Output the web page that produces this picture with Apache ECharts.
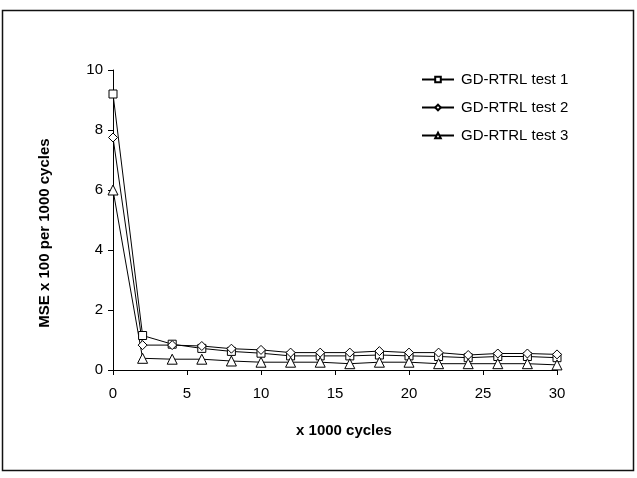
<!DOCTYPE html>
<html>
<head>
<meta charset="utf-8">
<script src="https://cdn.jsdelivr.net/npm/echarts@6/dist/echarts.min.js"></script>
<style>
html,body{margin:0;padding:0;background:#fff;}
#chart{width:637px;height:478px;}
</style>
</head>
<body>
<div id="chart"></div>
<script>
var cycles = [0, 2, 4, 6, 8, 10, 12, 14, 16, 18, 20, 22, 24, 26, 28, 30];
var test1 = [9.2, 1.15, 0.86, 0.72, 0.62, 0.56, 0.47, 0.47, 0.47, 0.5, 0.47, 0.45, 0.41, 0.45, 0.45, 0.41];
var test2 = [7.75, 0.83, 0.83, 0.8, 0.71, 0.67, 0.58, 0.58, 0.58, 0.63, 0.58, 0.58, 0.5, 0.55, 0.55, 0.52];
var test3 = [6.0, 0.39, 0.36, 0.36, 0.3, 0.26, 0.26, 0.26, 0.21, 0.26, 0.26, 0.21, 0.21, 0.21, 0.21, 0.17];
var seriesNames = ['GD-RTRL test 1', 'GD-RTRL test 2', 'GD-RTRL test 3'];
var xTicks = [0, 5, 10, 15, 20, 25, 30];
var yTicks = [0, 2, 4, 6, 8, 10];

function pairs(vals) {
  return cycles.map(function (c, i) { return [c, vals[i]]; });
}
var FONT = '"Liberation Sans", Arial, sans-serif';
function mkSeries(name, vals, symbol, size) {
  return {
    name: name,
    type: 'line',
    data: pairs(vals),
    symbol: symbol,
    symbolSize: size,
    showAllSymbol: true,
    lineStyle: { color: '#000', width: 1 },
    itemStyle: { color: '#fff', borderColor: '#000', borderWidth: 1 },
    emphasis: { disabled: true },
    animation: false
  };
}
var chart = echarts.init(document.getElementById('chart'), null, { renderer: 'canvas' });
chart.setOption({
  backgroundColor: '#fff',
  animation: false,
  textStyle: { fontFamily: FONT },
  graphic: [{
    type: 'rect',
    shape: { x: 2.5, y: 10.5, width: 631, height: 460 },
    style: { fill: 'none', stroke: '#111', lineWidth: 1.5 },
    silent: true
  }],
  legend: {
    orient: 'vertical',
    left: 416,
    top: 67,
    itemWidth: 32,
    itemHeight: 7,
    itemGap: 13,
    textStyle: { fontFamily: FONT, fontSize: 15, color: '#000', padding: [0, 0, 0, 2] },
    data: seriesNames
  },
  grid: { left: 113, right: 80, top: 70, bottom: 108, containLabel: false },
  xAxis: {
    type: 'value',
    min: xTicks[0],
    max: xTicks[xTicks.length - 1],
    interval: xTicks[1] - xTicks[0],
    name: 'x 1000 cycles',
    nameLocation: 'middle',
    nameGap: 53,
    nameTextStyle: { fontFamily: FONT, fontSize: 15, fontWeight: 'bold', color: '#000', padding: [0, 0, 0, 18] },
    axisLine: { lineStyle: { color: '#000', width: 1 } },
    axisTick: { show: true, inside: false, length: 5, lineStyle: { color: '#000' } },
    axisLabel: { fontFamily: FONT, fontSize: 15, color: '#000', margin: 16 },
    splitLine: { show: false }
  },
  yAxis: {
    type: 'value',
    min: yTicks[0],
    max: yTicks[yTicks.length - 1],
    interval: yTicks[1] - yTicks[0],
    name: 'MSE x 100 per 1000 cycles',
    nameLocation: 'middle',
    nameGap: 61,
    nameTextStyle: { fontFamily: FONT, fontSize: 15, fontWeight: 'bold', color: '#000', padding: [0, 26, 0, 0] },
    axisLine: { show: true, lineStyle: { color: '#000', width: 1 } },
    axisTick: { show: true, inside: false, length: 5, lineStyle: { color: '#000' } },
    axisLabel: { fontFamily: FONT, fontSize: 15, color: '#000', margin: 10 },
    splitLine: { show: false }
  },
  series: [
    mkSeries(seriesNames[0], test1, 'rect', 8),
    mkSeries(seriesNames[1], test2, 'diamond', 9),
    mkSeries(seriesNames[2], test3, 'triangle', 10)
  ]
});
</script>
</body>
</html>
